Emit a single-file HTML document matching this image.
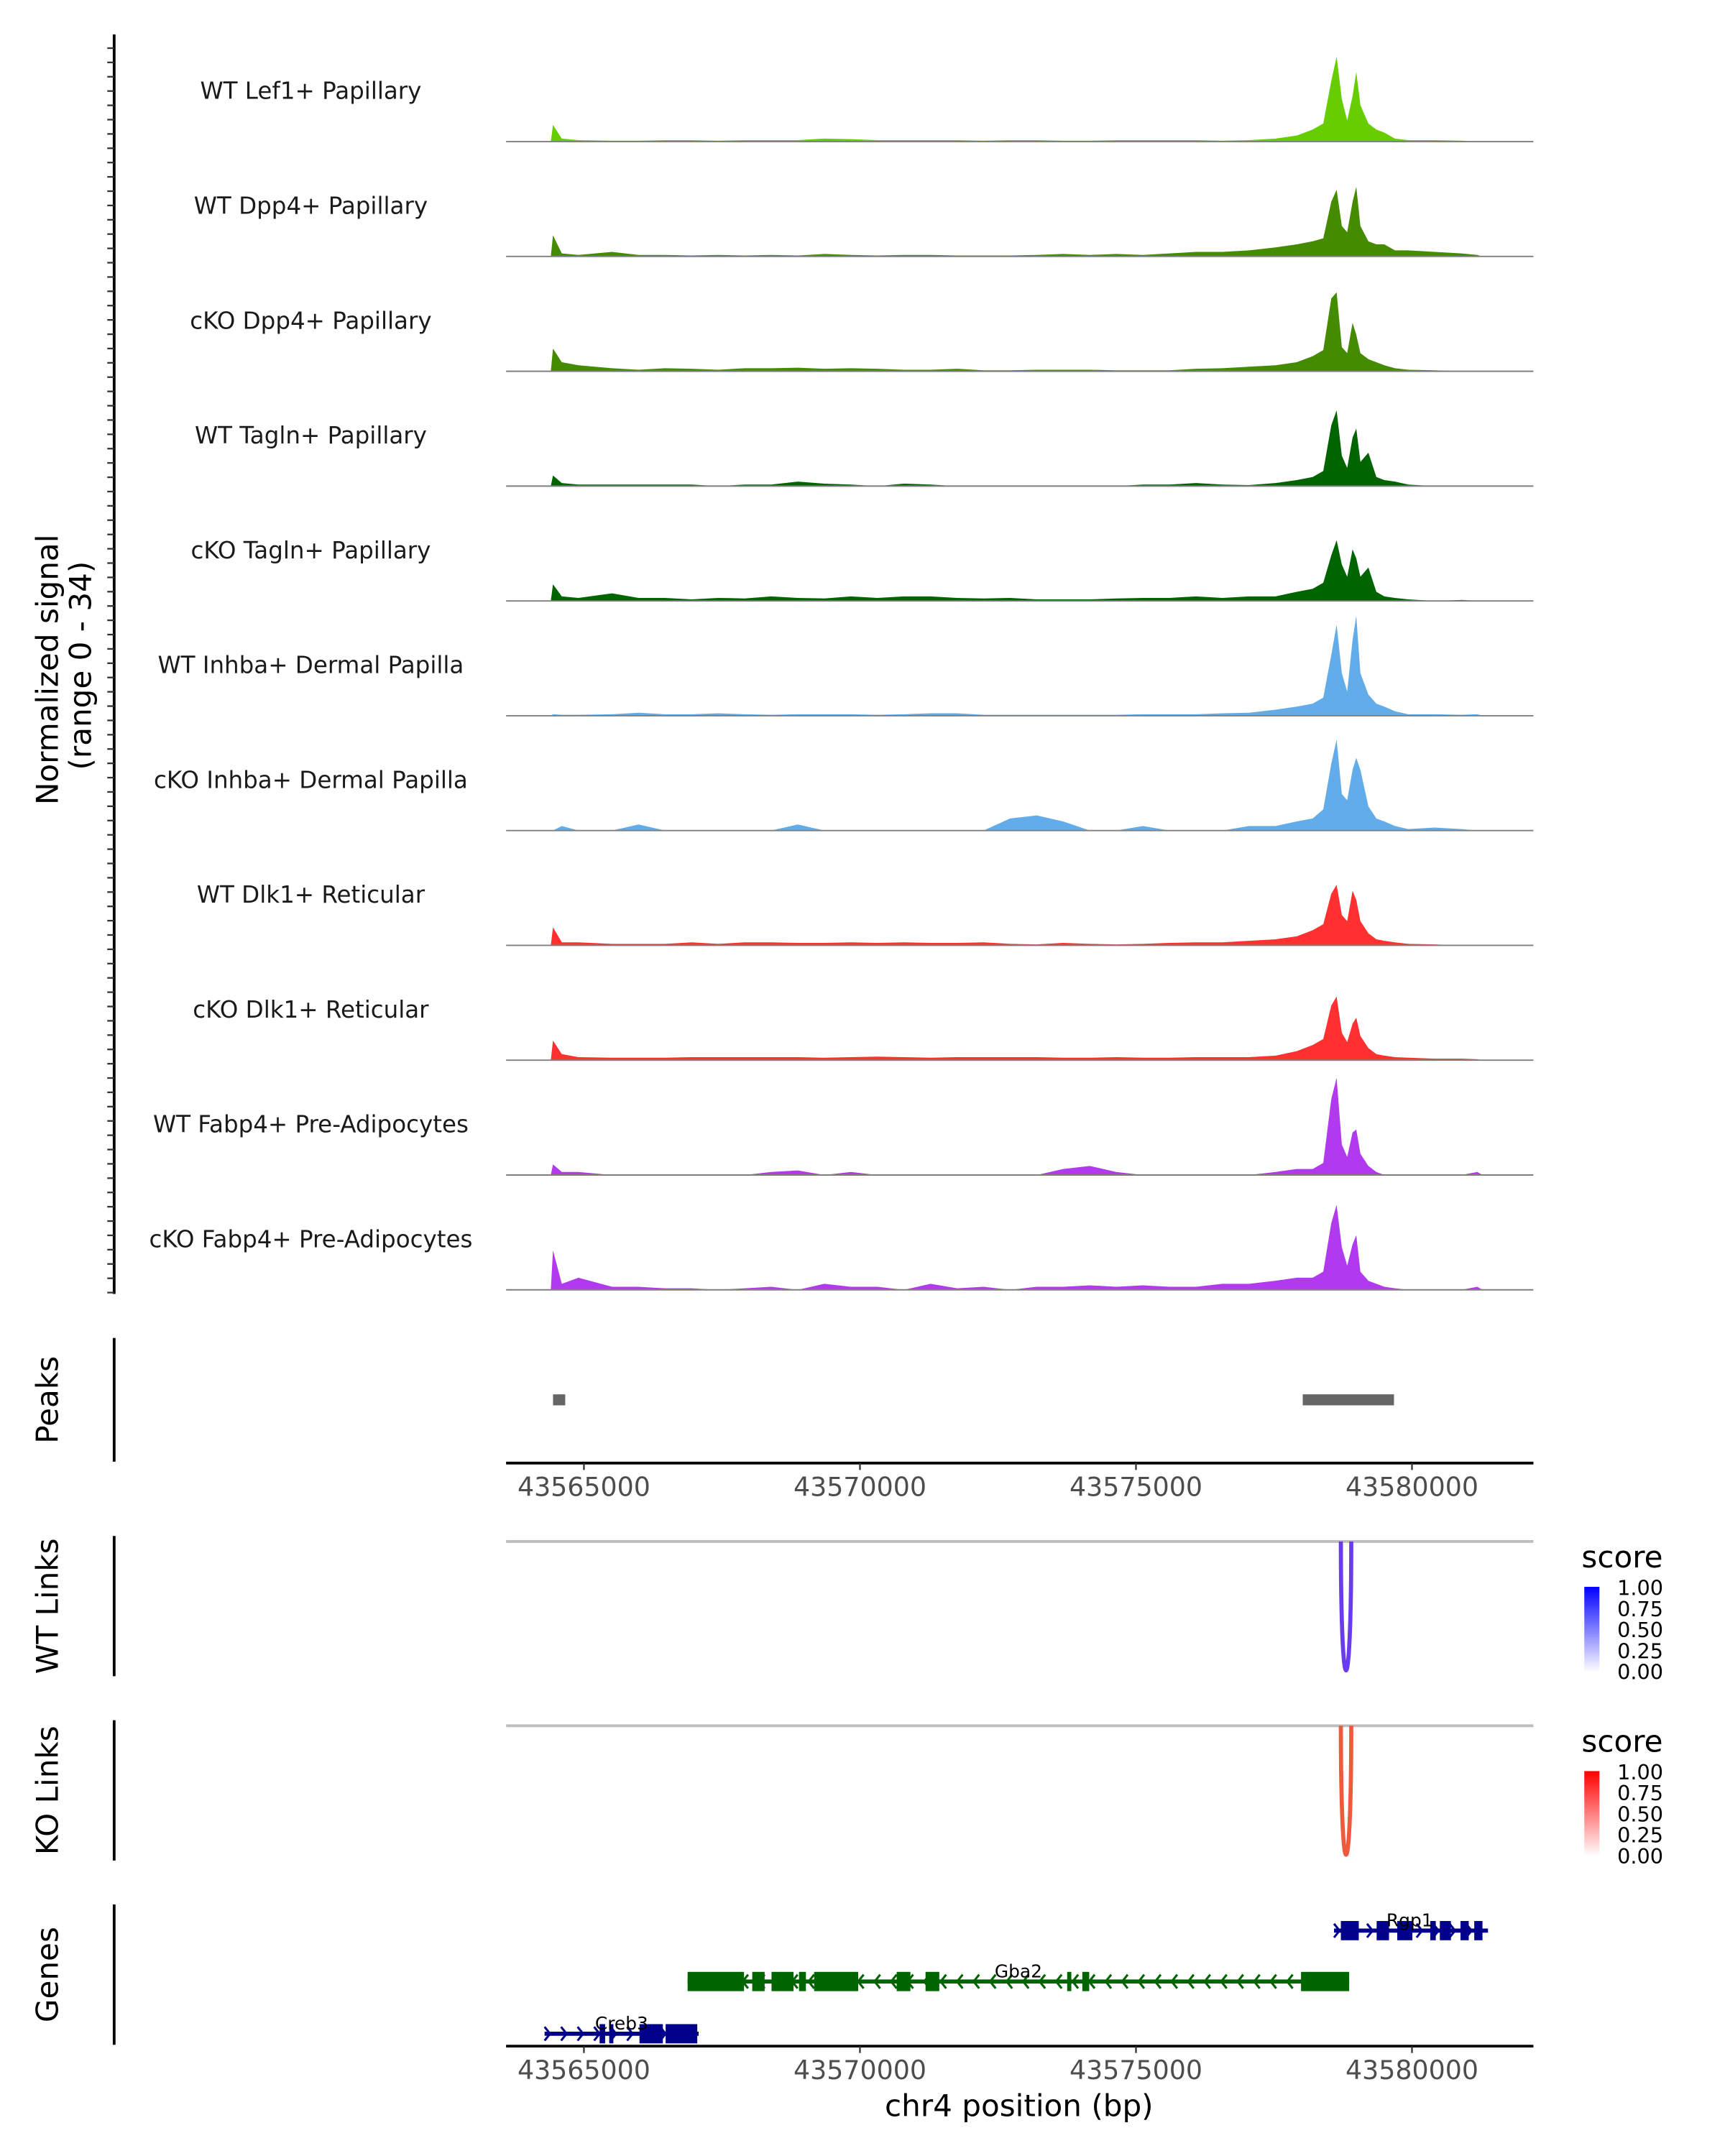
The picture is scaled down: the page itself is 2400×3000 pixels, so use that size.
<!DOCTYPE html>
<html><head><meta charset="utf-8"><style>
html,body{margin:0;padding:0;background:#fff}
svg{display:block}
text{font-family:"DejaVu Sans","Liberation Sans",sans-serif}
</style></head><body>
<svg id="chart" xmlns="http://www.w3.org/2000/svg" width="2400" height="3000" viewBox="0 0 1254.3 1567.9">
<rect width="1260" height="1570" fill="#fff"/>
<g id="tracks"></g>
<g id="axes"></g>
</svg>
<script>
const positions=[43564400,43564440,43564600,43564900,43565508,43565989,43566470,43566950,43567431,43567912,43568393,43568874,43569355,43569835,43570316,43570797,43571278,43571759,43572240,43572720,43573201,43573682,43574163,43574644,43575124,43575605,43576086,43576567,43577048,43577529,43577913,43578202,43578394,43578538,43578634,43578730,43578827,43578923,43578990,43579067,43579211,43579356,43579500,43579692,43579932,43580413,43580894,43581183,43581279];
const trackNames=["WT Lef1+ Papillary","WT Dpp4+ Papillary","cKO Dpp4+ Papillary","WT Tagln+ Papillary","cKO Tagln+ Papillary","WT Inhba+ Dermal Papilla","cKO Inhba+ Dermal Papilla","WT Dlk1+ Reticular","cKO Dlk1+ Reticular","WT Fabp4+ Pre-Adipocytes","cKO Fabp4+ Pre-Adipocytes"];
const trackColors=["#66CD00","#458B00","#458B00","#006400","#006400","#63ACEA","#63ACEA","#FF3030","#FF3030","#B23AEE","#B23AEE"];
const sigLef1WT=[0,5.5,1,0.5,0.3,0.3,0.5,0.5,0.3,0.5,0.5,0.5,1,0.8,0.5,0.5,0.5,0.5,0.3,0.5,0.5,0.3,0.3,0.5,0.5,0.5,0.5,0.3,0.5,1,2,4,6,20,28,14,7,15,23,12,6,4,3,1,0.5,0.5,0.3,0,0];
const sigDpp4WT=[0,7,1,0.5,1.5,0.5,0.5,0.3,0.5,0.3,0.5,0.3,0.8,0.5,0.3,0.5,0.5,0.3,0.3,0.3,0.5,0.8,0.5,0.8,0.5,1,1.5,1.5,2,3,4,5,6,18,22,10,8,18,23,10,5,4,4,2,2,1.5,1,0.5,0];
const sigDpp4KO=[0,7.5,3,2,1,0.5,1,0.8,0.5,1,1,1.2,0.8,1,0.8,0.5,0.5,0.8,0.3,0.3,0.5,0.5,0.5,0.3,0.3,0.3,0.8,1,1.5,2,3,5,7,24,26,8,6,16,12,6,4,3,2,1,0.5,0.3,0,0,0];
const sigTaglnWT=[0,3.5,1,0.5,0.5,0.5,0.5,0.5,0,0.5,0.5,1.5,0.8,0.5,0,0.8,0.5,0,0,0,0,0,0,0,0.5,0.5,1,0.5,0.3,1,2,3,5,20,25,10,6,16,19,8,11,3,2,1.5,0.5,0,0,0,0];
const sigTaglnKO=[0,5.5,1.5,1,2.5,1,1,0.5,1,0.8,1.5,1,0.8,1.5,1,1.5,1.5,1,0.8,1,0.5,0.5,0.5,0.8,1,1,1.5,1,1.5,1.5,3,4,6,15,20,12,8,17,14,8,11,3,1.5,1,0.5,0,0.3,0,0];
const sigInhbaWT=[0,0.5,0.3,0.3,0.5,1,0.5,0.5,0.8,0.5,0.3,0.5,0.5,0.5,0.3,0.5,0.8,0.8,0.3,0.3,0.3,0.3,0.3,0.3,0.5,0.5,0.5,0.8,1,2,3,4,6,20,30,14,8,25,33,14,7,4,3,1.5,0.5,0.5,0.3,0.5,0];
const sigInhbaKO=[0,0,1.5,0,0,2,0,0,0,0,0,2,0,0,0,0,0,0,0,4,5,3,0,0,1.5,0,0,0,1.5,1.5,3,4,7,22,30,12,10,20,24,20,8,4,3,1.5,0.5,1,0.5,0,0];
const sigDlk1WT=[0,6,1,1,0.5,0.5,0.5,1,0.5,1,1,0.8,0.8,1,0.8,1,0.8,0.8,1,0.5,0.3,0.8,0.5,0.3,0.5,0.8,1,1,1.5,2,3,5,7,17,20,10,8,18,15,8,4,2,1.5,1,0.5,0.3,0,0,0];
const sigDlk1KO=[0,6.5,2,1,0.8,0.8,0.8,1,1,1,1,1,0.8,1,1.2,1,0.8,1,1,1,1,0.8,0.8,1,0.8,0.8,1,1,1,1.5,3,5,7,18,21,9,6,12,14,8,4,2,1.5,1,0.8,0.5,0.5,0.3,0];
const sigFabp4WT=[0,3.5,1,1,0,0,0,0,0,0,1,1.5,0,1,0,0,0,0,0,0,0,2,3,1,0,0,0,0,0,1,2,2,4,25,32,10,6,14,15,7,3,1,0,0,0,0,0,1,0];
const sigFabp4KO=[0,13,2,4,1,1,0.5,0.5,0,0.5,1,0,2,1,1,0,2,0.5,1,0,1,1,1.5,1,1.5,1,1,2,2,3,4,4,6,22,28,14,8,15,18,6,3,2,1,0.5,0,0,0,1,0];
const signals=[sigLef1WT,sigDpp4WT,sigDpp4KO,sigTaglnWT,sigTaglnKO,sigInhbaWT,sigInhbaKO,sigDlk1WT,sigDlk1KO,sigFabp4WT,sigFabp4KO];
const yMax=34;
const xTicks=[43565000,43570000,43575000,43580000];
const peakStarts=[43564440,43578021];
const peakEnds=[43564661,43579674];
const wtLinkStart=[43578712];const wtLinkEnd=[43578900];const wtLinkScore=[1];
const koLinkStart=[43578712];const koLinkEnd=[43578900];const koLinkScore=[1];
const legendTicks=["1.00","0.75","0.50","0.25","0.00"];
const geneNames=["Rgp1","Gba2","Creb3"];
const geneStrands=["+","-","+"];
const geneStarts=[43578588,43566878,43564287];
const geneEnds=[43581377,43578862,43567078];
const exonsRgp1=[[43578712,43579036],[43579360,43579584],[43579733,43580007],[43580331,43580431],[43580505,43580705],[43580879,43581028],[43581128,43581277]];
const exonsGba2=[[43566878,43567900],[43568049,43568273],[43568398,43568797],[43568896,43569021],[43569170,43569968],[43570665,43570914],[43571188,43571437],[43573754,43573829],[43574028,43574153],[43577990,43578862]];
const exonsCreb3=[[43565284,43565384],[43565458,43565533],[43566006,43566430],[43566480,43567053]];
const geneExons=[exonsRgp1,exonsGba2,exonsCreb3];
const geneColors=["#00008B","#006400","#00008B"];

const NS="http://www.w3.org/2000/svg";
const svg=document.getElementById('chart');
const X0=368,X1=1115;
const refBp=43565000,refX=424.6,pxPerBp=200.7/5000;
function xs(bp){return refX+(bp-refBp)*pxPerBp;}
function mk(tag,attrs,parent){const e=document.createElementNS(NS,tag);for(const k in attrs)e.setAttribute(k,attrs[k]);(parent||svg).appendChild(e);return e;}
const trackH=75;
const baselines=[103,186.5,270,353.5,437,520.5,604,687.5,771,854.5,938];
function ys(v,b){return b-v/yMax*trackH;}
const tg=document.getElementById('tracks');
for(let t=0;t<signals.length;t++){
  const b=baselines[t];const s=signals[t];
  let d='M'+xs(positions[0])+','+b;
  for(let i=0;i<Math.min(s.length,positions.length);i++)d+=' L'+xs(positions[i]).toFixed(1)+','+ys(s[i],b).toFixed(1);
  d+=' L'+xs(positions[positions.length-1])+','+b+' Z';
  const p=mk('path',{d:d,fill:trackColors[t]},tg);
  
  
  const l=mk('line',{x1:X0,x2:X1,y1:b,y2:b,stroke:'#7f7f7f','stroke-width':1},tg);
  
  
  const tx=mk('text',{x:226,y:b-31,'text-anchor':'middle','font-size':17,fill:'#1a1a1a'},tg);
  tx.textContent=trackNames[t];
  
  
}
const ag=document.getElementById('axes');
let a=mk('line',{x1:83,x2:83,y1:25,y2:941,stroke:'#000','stroke-width':2},ag);


for(let i=0;i<88;i++){const y=35+i*(905/87);const tk=mk('line',{x1:78,x2:83,y1:y,y2:y,stroke:'#333','stroke-width':1.2},ag);

}
let yt=mk('text',{transform:'translate(42,487) rotate(-90)','text-anchor':'middle','font-size':22},ag);yt.textContent='Normalized signal';


let yt2=mk('text',{transform:'translate(66,484) rotate(-90)','text-anchor':'middle','font-size':22},ag);yt2.textContent='(range 0 - 34)';


function sideAxis(y1,y2,label,name){const l=mk('line',{x1:83,x2:83,y1:y1,y2:y2,stroke:'#000','stroke-width':2},ag);


const t=mk('text',{transform:'translate(42,'+((y1+y2)/2)+') rotate(-90)','text-anchor':'middle','font-size':22},ag);t.textContent=label;

}
sideAxis(973,1063,'Peaks','peaks');
sideAxis(1117,1219,'WT Links','wt-links');
sideAxis(1251,1353,'KO Links','ko-links');
sideAxis(1385,1487,'Genes','genes');
for(let i=0;i<peakStarts.length;i++){const r=mk('rect',{x:xs(peakStarts[i]),y:1014,width:xs(peakEnds[i])-xs(peakStarts[i]),height:8,fill:'#666'},ag);

}
function xAxis(y,name){const l=mk('line',{x1:X0,x2:X1,y1:y,y2:y,stroke:'#000','stroke-width':2},ag);


xTicks.forEach(v=>{const x=xs(v);const t=mk('line',{x1:x,x2:x,y1:y,y2:y+5,stroke:'#333','stroke-width':1.2},ag);


const tx=mk('text',{x:x,y:y+24,'text-anchor':'middle','font-size':19,fill:'#4d4d4d'},ag);tx.textContent=v;

});}
xAxis(1064,'peaks-x-axis');
xAxis(1488,'genes-x-axis');
let xt=mk('text',{x:741,y:1539,'text-anchor':'middle','font-size':22},ag);xt.textContent='chr4 position (bp)';


const defs=mk('defs',{});
function grad(id,c){const g=mk('linearGradient',{id:id,x1:0,y1:1,x2:0,y2:0},defs);mk('stop',{offset:0,'stop-color':'#fff'},g);mk('stop',{offset:1,'stop-color':c},g);}
grad('gb','#0000FF');grad('gr','#FF0000');
function links(top,bottom,st,en,sc,col,legY,gid,name){
  const l=mk('line',{x1:X0,x2:X1,y1:top,y2:top,stroke:'#bdbdbd','stroke-width':2},ag);
  
  
  for(let i=0;i<st.length;i++){const x1=xs(st[i]),x2=xs(en[i]);const depth=(bottom-top)*1.33*sc[i];
    const p=mk('path',{d:'M'+x1+','+top+' C'+x1+','+(top+depth)+' '+x2+','+(top+depth)+' '+x2+','+top,fill:'none',stroke:col,'stroke-width':3},ag);
    
    }
  const t=mk('text',{x:1150,y:legY,'font-size':22},ag);t.textContent='score';
  
  
  const r=mk('rect',{x:1152,y:legY+14,width:11,height:62,fill:'url(#'+gid+')'},ag);
  
  
  legendTicks.forEach((s,i)=>{const tx=mk('text',{x:1176,y:legY+20+i*15.3,'font-size':15},ag);tx.textContent=s;
  
  });
}
links(1121,1215,wtLinkStart,wtLinkEnd,wtLinkScore,'#6A3CF0',1140,'gb','wt-links');
links(1255,1349,koLinkStart,koLinkEnd,koLinkScore,'#F05A3C',1274,'gr','ko-links');
const geneY=[1404,1441,1479];
const labelY=[1401,1438,1476];
for(let g=0;g<geneNames.length;g++){
  const y=geneY[g],c=geneColors[g],x1=xs(geneStarts[g]),x2=xs(geneEnds[g]);
  const ln=mk('line',{x1:x1,x2:x2,y1:y,y2:y,stroke:c,'stroke-width':3},ag);
  
  
  for(let x=x1+4;x<x2-2;x+=12){const dx=geneStrands[g]==='+'?4:-4;
    const ch=mk('path',{d:'M'+(x-dx)+','+(y-5)+' L'+x+','+y+' L'+(x-dx)+','+(y+5),fill:'none',stroke:c,'stroke-width':1.6},ag);
    
    }
  geneExons[g].forEach(e=>{const r=mk('rect',{x:xs(e[0]),y:y-7,width:Math.max(2,xs(e[1])-xs(e[0])),height:14,fill:c},ag);
    
    });
  const t=mk('text',{x:(x1+x2)/2 + (g===0?-1:0),y:labelY[g],'text-anchor':'middle','font-size':13},ag);
  t.textContent=geneNames[g];
  
  
}
</script>
</body></html>
